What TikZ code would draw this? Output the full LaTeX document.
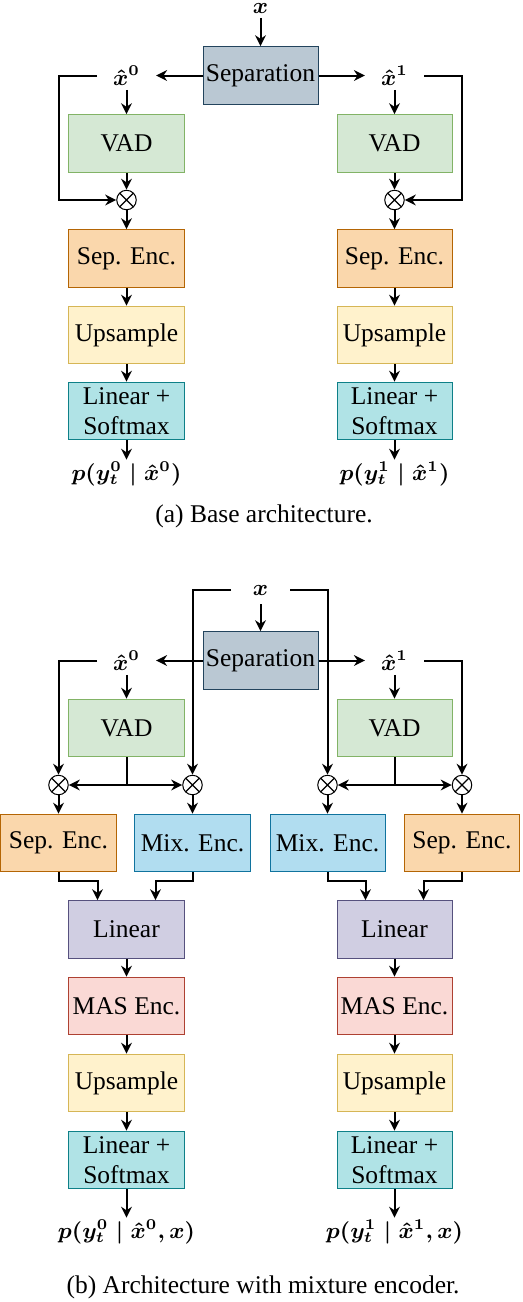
\documentclass[tikz,border=0pt]{standalone}
\usepackage{amsmath}
\usepackage{amssymb}
\usepackage[no-math]{fontspec}
\setmainfont{Liberation Serif}
\usetikzlibrary{arrows.meta,positioning,calc}
\definecolor{sepfill}{HTML}{BAC8D3}
\definecolor{sepdraw}{HTML}{23445D}
\definecolor{vadfill}{HTML}{D5E8D4}
\definecolor{vaddraw}{HTML}{82B366}
\definecolor{encfill}{HTML}{FAD7AC}
\definecolor{encdraw}{HTML}{B46504}
\definecolor{upfill}{HTML}{FFF2CC}
\definecolor{updraw}{HTML}{D6B656}
\definecolor{smfill}{HTML}{B0E3E6}
\definecolor{smdraw}{HTML}{0E8088}
\definecolor{mixfill}{HTML}{B1DDF0}
\definecolor{mixdraw}{HTML}{10739E}
\definecolor{linfill}{HTML}{D0CEE2}
\definecolor{lindraw}{HTML}{56517E}
\definecolor{masfill}{HTML}{FAD9D5}
\definecolor{masdraw}{HTML}{AE4132}

\tikzset{
  txt/.style={font=\fontsize{10.2}{12}\selectfont},
  blk/.style={draw, txt, line width=0.4pt, minimum width=46pt, minimum height=23pt,
              inner sep=1pt, align=center},
  sepblk/.style={blk, fill=sepfill, draw=sepdraw},
  vadblk/.style={blk, fill=vadfill, draw=vaddraw},
  encblk/.style={blk, fill=encfill, draw=encdraw},
  upblk/.style={blk, fill=upfill, draw=updraw},
  smblk/.style={blk, fill=smfill, draw=smdraw},
  mixblk/.style={blk, fill=mixfill, draw=mixdraw},
  linblk/.style={blk, fill=linfill, draw=lindraw},
  masblk/.style={blk, fill=masfill, draw=masdraw},
  lbl/.style={font=\fontsize{9.2}{11}\selectfont, inner sep=0pt, minimum width=23.2pt,
              minimum height=11pt},
  mult/.style={draw, circle, minimum size=7.8pt, inner sep=0pt, line width=0.4pt, fill=white,
               path picture={\draw[line width=0.45pt]
                 (path picture bounding box.north west) -- (path picture bounding box.south east)
                 (path picture bounding box.north east) -- (path picture bounding box.south west);}},
  arr/.style={-{Stealth[length=4.4pt, width=4.3pt, inset=1.4pt]}, line width=0.8pt},
}

\begin{document}
\begin{tikzpicture}[x=0.4pt, y=-0.4pt]
  \useasboundingbox (0,0) rectangle (522,1302);

  % (a) base architecture
  \node[lbl, minimum height=7pt] (x) at (260.5,8.5) {$\boldsymbol{x}$};
  \node[sepblk] (sep) at (260.5,75.5) {Separation};
  \node[lbl] (xh0) at (126.5,75.5) {$\boldsymbol{\hat{x}^0}$};
  \node[lbl] (xh1) at (394.5,75.5) {$\boldsymbol{\hat{x}^1}$};
  \node[vadblk] (vad0) at (126.5,143.5) {VAD};
  \node[vadblk] (vad1) at (394.5,143.5) {VAD};
  \node[mult] (m0) at (126.5,200) {};
  \node[mult] (m1) at (394.5,200) {};
  \node[encblk] (enc0) at (126.5,258.5) {Sep. Enc.};
  \node[encblk] (enc1) at (394.5,258.5) {Sep. Enc.};
  \node[upblk] (up0) at (126.5,335) {Upsample};
  \node[upblk] (up1) at (394.5,335) {Upsample};
  \node[smblk] (sm0) at (126.5,411) {Linear +\\Softmax};
  \node[smblk] (sm1) at (394.5,411) {Linear +\\Softmax};
  \node[lbl] (out0) at (126.5,474) {$\boldsymbol{p(y_t^0 \mid \hat{x}^0)}$};
  \node[lbl] (out1) at (394.5,474) {$\boldsymbol{p(y_t^1 \mid \hat{x}^1)}$};
  \node[txt] (capa) at (264,516) {(a) Base architecture.};

  \draw[arr] (x) -- (sep);
  \draw[arr] (sep) -- (xh0);
  \draw[arr] (sep) -- (xh1);
  \draw[arr] (xh0) -- (vad0);
  \draw[arr] (xh1) -- (vad1);
  \draw[arr] (xh0.west) -- ++(-38,0) |- (m0.west);
  \draw[arr] (xh1.east) -- ++(38,0) |- (m1.east);
  \draw[arr] (vad0) -- (m0);
  \draw[arr] (vad1) -- (m1);
  \draw[arr] (m0) -- (enc0);
  \draw[arr] (m1) -- (enc1);
  \draw[arr] (enc0) -- (up0);
  \draw[arr] (enc1) -- (up1);
  \draw[arr] (up0) -- (sm0);
  \draw[arr] (up1) -- (sm1);
  \draw[arr] (sm0) -- (out0);
  \draw[arr] (sm1) -- (out1);

  % (b) with mixture encoder
  \node[lbl] (bx) at (260.5,590) {$\boldsymbol{x}$};
  \node[sepblk] (bsep) at (260.5,660.5) {Separation};
  \node[lbl] (bxh0) at (126.5,660.5) {$\boldsymbol{\hat{x}^0}$};
  \node[lbl] (bxh1) at (394.5,660.5) {$\boldsymbol{\hat{x}^1}$};
  \node[vadblk] (bvad0) at (126.5,728) {VAD};
  \node[vadblk] (bvad1) at (394.5,728) {VAD};
  \node[mult] (bm0a) at (58.5,785) {};
  \node[mult] (bm0b) at (192.5,785) {};
  \node[mult] (bm1a) at (327.5,785) {};
  \node[mult] (bm1b) at (462,785) {};
  \node[encblk] (benc0) at (58.5,843) {Sep. Enc.};
  \node[mixblk] (bmix0) at (192.5,843) {Mix. Enc.};
  \node[mixblk] (bmix1) at (327.5,843) {Mix. Enc.};
  \node[encblk] (benc1) at (462,843) {Sep. Enc.};
  \node[linblk] (blin0) at (126.5,929.5) {Linear};
  \node[linblk] (blin1) at (394.5,929.5) {Linear};
  \node[masblk] (bmas0) at (126.5,1006) {MAS Enc.};
  \node[masblk] (bmas1) at (394.5,1006) {MAS Enc.};
  \node[upblk] (bup0) at (126.5,1083) {Upsample};
  \node[upblk] (bup1) at (394.5,1083) {Upsample};
  \node[smblk] (bsm0) at (126.5,1160) {Linear +\\Softmax};
  \node[smblk] (bsm1) at (394.5,1160) {Linear +\\Softmax};
  \node[lbl] (bout0) at (126.5,1232) {$\boldsymbol{p(y_t^0 \mid \hat{x}^0, x)}$};
  \node[lbl] (bout1) at (394.5,1232) {$\boldsymbol{p(y_t^1 \mid \hat{x}^1, x)}$};
  \node[txt] (capb) at (263,1287) {(b) Architecture with mixture encoder.};

  \draw[arr] (bx) -- (bsep);
  \draw[arr] (bx.west) -| (bm0b.north);
  \draw[arr] (bx.east) -| (bm1a.north);
  \draw[arr] (bsep) -- (bxh0);
  \draw[arr] (bsep) -- (bxh1);
  \draw[arr] (bxh0) -- (bvad0);
  \draw[arr] (bxh1) -- (bvad1);
  \draw[arr] (bxh0.west) -| (bm0a.north);
  \draw[arr] (bxh1.east) -| (bm1b.north);
  \draw[arr] (bvad0.south) |- (bm0a.east);
  \draw[arr] (bvad0.south) |- (bm0b.west);
  \draw[arr] (bvad1.south) |- (bm1a.east);
  \draw[arr] (bvad1.south) |- (bm1b.west);
  \draw[arr] (bm0a) -- (benc0);
  \draw[arr] (bm0b) -- (bmix0);
  \draw[arr] (bm1a) -- (bmix1);
  \draw[arr] (bm1b) -- (benc1);
  \draw[arr] (benc0.south) -- ++(0,9) -| ($(blin0.north west)!0.25!(blin0.north east)$);
  \draw[arr] (bmix0.south) -- ++(0,9) -| ($(blin0.north west)!0.75!(blin0.north east)$);
  \draw[arr] (bmix1.south) -- ++(0,9) -| ($(blin1.north west)!0.25!(blin1.north east)$);
  \draw[arr] (benc1.south) -- ++(0,9) -| ($(blin1.north west)!0.75!(blin1.north east)$);
  \draw[arr] (blin0) -- (bmas0);
  \draw[arr] (blin1) -- (bmas1);
  \draw[arr] (bmas0) -- (bup0);
  \draw[arr] (bmas1) -- (bup1);
  \draw[arr] (bup0) -- (bsm0);
  \draw[arr] (bup1) -- (bsm1);
  \draw[arr] (bsm0) -- (bout0);
  \draw[arr] (bsm1) -- (bout1);
\end{tikzpicture}
\end{document}
